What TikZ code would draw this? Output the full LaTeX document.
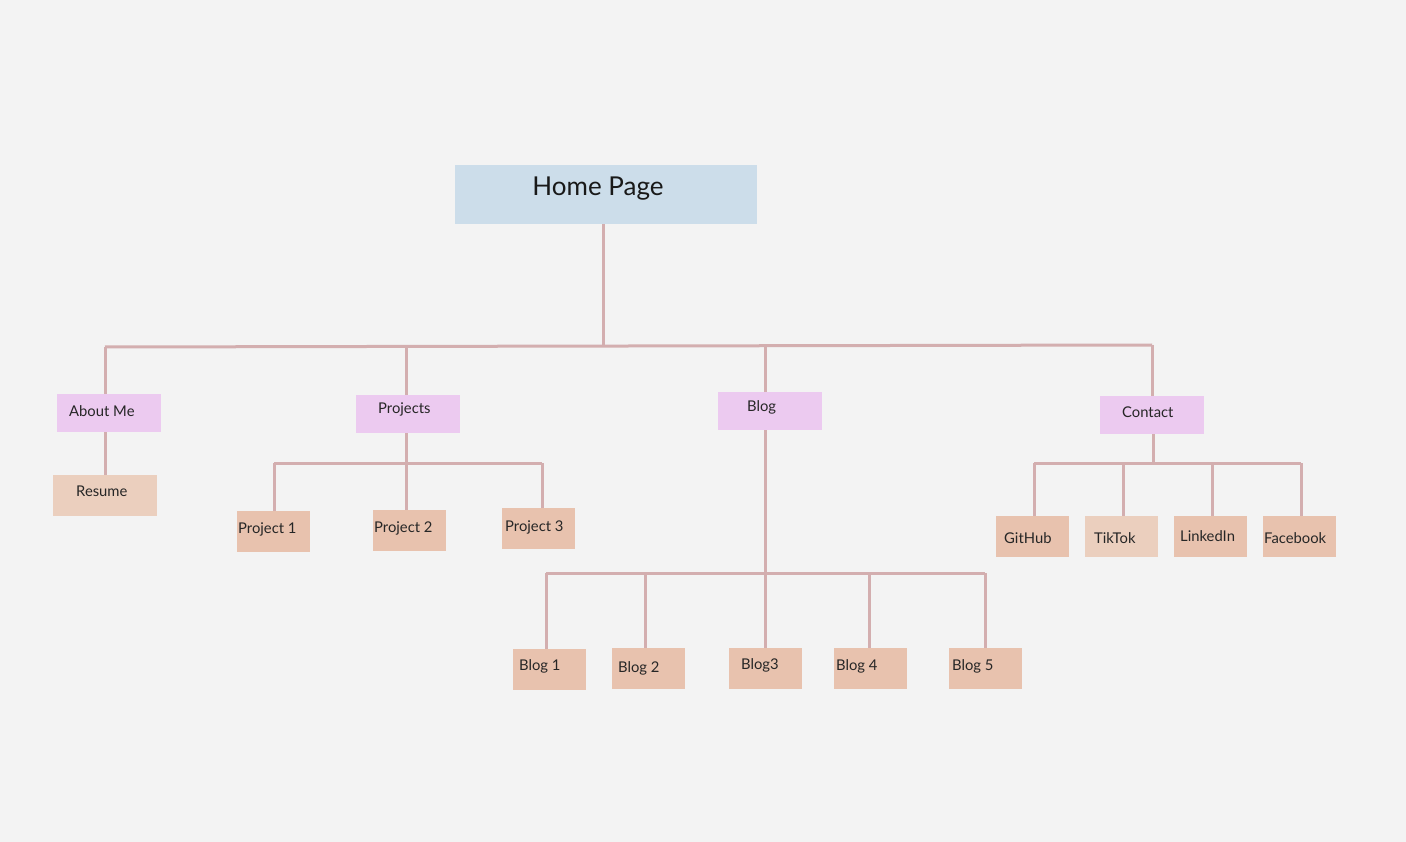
\documentclass[tikz,border=0pt]{standalone}
\usepackage{fontspec}
\setmainfont{Lato}
\definecolor{bg}{HTML}{F3F3F3}
\definecolor{homec}{HTML}{CCDDEA}
\definecolor{midc}{HTML}{ECCAF0}
\definecolor{leafc}{HTML}{E8C2AE}
\definecolor{leafl}{HTML}{EBCFBE}
\definecolor{linec}{HTML}{D3AEAF}
\tikzset{
  conn/.style={draw=linec, line width=3pt, line cap=butt, line join=miter},
  homebox/.style={fill=homec, draw=none, minimum width=302pt, minimum height=59pt, inner sep=0pt},
  midbox/.style={fill=midc, draw=none, minimum width=104pt, minimum height=38pt, inner sep=0pt},
  leafbox/.style={fill=leafc, draw=none, minimum width=73pt, minimum height=41pt, inner sep=0pt},
  lbl/.style={anchor=west, inner sep=0pt, font=\fontsize{14.8pt}{16pt}\selectfont, text=black!85},
  hlbl/.style={inner sep=0pt, font=\fontsize{26pt}{28pt}\selectfont, text=black!90}
}
\begin{document}
\begin{tikzpicture}[x=1pt,y=-1pt]
\fill[bg] (0,0) rectangle (1406,842);
\useasboundingbox (0,0) rectangle (1406,842);

\coordinate (j0) at (603,346);
\coordinate (busL) at (105,347);
\coordinate (busR) at (1152,345);
\coordinate (busP) at (406,347);
\coordinate (busB) at (765,346);
\coordinate (pjL) at (274,463);
\coordinate (pjM) at (406,463);
\coordinate (pjR) at (542,463);
\coordinate (bjL) at (546,573);
\coordinate (bj2) at (645,573);
\coordinate (bjM) at (765,573);
\coordinate (bj4) at (869,573);
\coordinate (bjR) at (985,573);
\coordinate (cjL) at (1034,463);
\coordinate (cj2) at (1123,463);
\coordinate (cjM) at (1153,463);
\coordinate (cj3) at (1212,463);
\coordinate (cjR) at (1301,463);

% nodes
\node[homebox] (home) at (606,194.5) {};
\node[hlbl] (homet) at (598,188.5) {Home Page};

\node[midbox] (about) at (109,413) {};
\node[lbl] (aboutt) at (69,411.5) {About Me};
\node[midbox] (proj) at (408,414) {};
\node[lbl] (projt) at (378,409.5) {Projects};
\node[midbox] (blog) at (770,411) {};
\node[lbl] (blogt) at (747,407.5) {Blog};
\node[midbox] (cont) at (1152,415) {};
\node[lbl] (contt) at (1122,412.5) {Contact};

\node[leafbox, fill=leafl, minimum width=104pt] (res) at (105,495.5) {};
\node[lbl] (rest) at (76,491.5) {Resume};

\node[leafbox] (p1) at (273.5,531.5) {};
\node[lbl] (p1t) at (238,529.5) {Project 1};
\node[leafbox] (p2) at (409,530.5) {};
\node[lbl] (p2t) at (374,528.5) {Project 2};
\node[leafbox] (p3) at (538.5,528.5) {};
\node[lbl] (p3t) at (505,527.5) {Project 3};

\node[leafbox] (b1) at (549.5,669.5) {};
\node[lbl] (b1t) at (519,666.5) {Blog 1};
\node[leafbox] (b2) at (648.5,668.5) {};
\node[lbl] (b2t) at (618,668.5) {Blog 2};
\node[leafbox] (b3) at (765.5,668.5) {};
\node[lbl] (b3t) at (741,665.5) {Blog3};
\node[leafbox] (b4) at (870.5,668.5) {};
\node[lbl] (b4t) at (836,666.5) {Blog 4};
\node[leafbox] (b5) at (985.5,668.5) {};
\node[lbl] (b5t) at (952,666.5) {Blog 5};

\node[leafbox] (gh) at (1032.5,536.5) {};
\node[lbl] (ght) at (1004,538.5) {GitHub};
\node[leafbox, fill=leafl] (tt) at (1121.5,536.5) {};
\node[lbl] (ttt) at (1094,538.5) {TikTok};
\node[leafbox] (li) at (1210.5,536.5) {};
\node[lbl] (lit) at (1180,536.5) {LinkedIn};
\node[leafbox] (fb) at (1299.5,536.5) {};
\node[lbl] (fbt) at (1264,538.5) {Facebook};

% connectors
\draw[conn] (home.south -| j0) -- (j0);
\draw[conn] (busL) -- (busR);
\draw[conn] (busL) -- (busL |- about.north);
\draw[conn] (busP) -- (busP |- proj.north);
\draw[conn] (busB) -- (busB |- blog.north);
\draw[conn] (busR) -- (busR |- cont.north);

\draw[conn] (about.south -| busL) -- (busL |- res.north);

\draw[conn] (proj.south -| pjM) -- (pjM);
\draw[conn] (pjL) -- (pjR);
\draw[conn] (pjL) -- (pjL |- p1.north);
\draw[conn] (pjM) -- (pjM |- p2.north);
\draw[conn] (pjR) -- (pjR |- p3.north);

\draw[conn] (blog.south -| bjM) -- (bjM);
\draw[conn] (bjL) -- (bjR);
\draw[conn] (bjL) -- (bjL |- b1.north);
\draw[conn] (bj2) -- (bj2 |- b2.north);
\draw[conn] (bjM) -- (bjM |- b3.north);
\draw[conn] (bj4) -- (bj4 |- b4.north);
\draw[conn] (bjR) -- (bjR |- b5.north);

\draw[conn] (cont.south -| cjM) -- (cjM);
\draw[conn] (cjL) -- (cjR);
\draw[conn] (cjL) -- (cjL |- gh.north);
\draw[conn] (cj2) -- (cj2 |- tt.north);
\draw[conn] (cj3) -- (cj3 |- li.north);
\draw[conn] (cjR) -- (cjR |- fb.north);
\end{tikzpicture}
\end{document}
